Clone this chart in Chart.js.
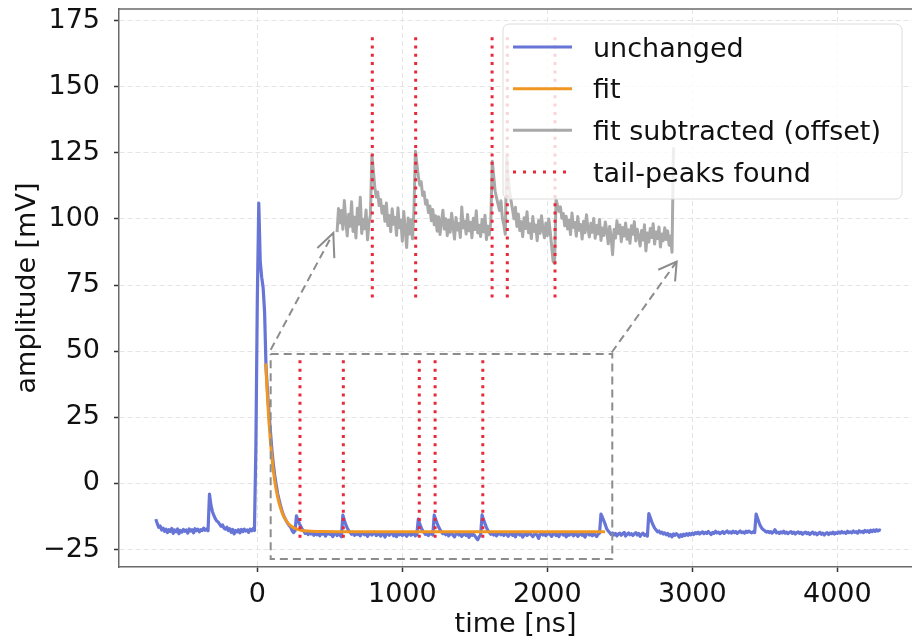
<!DOCTYPE html>
<html>
<head>
<meta charset="utf-8">
<script src="https://cdn.jsdelivr.net/npm/chart.js@4/dist/chart.umd.min.js"></script>
<style>
  html, body { margin: 0; padding: 0; background: #fff; }
  #wrap { width: 912px; height: 642px; }
</style>
</head>
<body>
<div id="wrap"><canvas id="myChart"></canvas></div>
<script>
// legend names
var seriesNames = ["unchanged", "fit", "fit subtracted (offset)", "tail-peaks found"];

// axis ticks
var xTickValues = [0, 1000, 2000, 3000, 4000];
var yTickValues = [-25, 0, 25, 50, 75, 100, 125, 150, 175];

// unchanged waveform, sampled every 10 ns from -700 ns
var blueStart = -700;
var blueStep = 10;
var blueValues = [
  -13.5,-15.2,-16.6,-16.1,-17.6,-16.9,-18.1,-17.3,-18.6,-17.5,
  -18.2,-17.0,-18.9,-17.6,-18.3,-17.2,-19.0,-17.8,-18.4,-17.4,
  -18.1,-17.6,-18.8,-17.2,-18.0,-17.5,-18.7,-17.1,-17.9,-17.3,
  -18.3,-17.5,-17.8,-16.9,-17.7,-17.2,-17.9,-4.0,-8.2,-10.6,
  -12.1,-13.3,-14.2,-14.6,-15.4,-16.2,-15.7,-16.9,-17.3,-16.5,
  -17.8,-17.1,-18.5,-17.4,-19.1,-17.8,-18.3,-17.5,-18.7,-17.4,
  -18.2,-17.3,-18.0,-17.6,-18.5,-17.3,-17.9,-17.1,-17.8,14.0,
  70.0,106.0,84.0,78.0,74.0,65.0,44.0,35.0,27.0,20.0,
  13.0,7.5,3.0,-0.5,-3.8,-6.2,-8.4,-10.3,-11.9,-13.2,
  -14.2,-15.1,-15.9,-16.6,-17.8,-18.6,-17.9,-12.3,-13.8,-15.2,
  -16.3,-17.4,-18.0,-18.9,-18.2,-19.3,-18.5,-19.1,-18.4,-19.6,
  -18.7,-19.4,-18.3,-19.8,-18.9,-19.2,-18.6,-19.9,-19.0,-18.5,
  -19.3,-18.8,-20.1,-19.2,-18.6,-19.7,-18.9,-19.5,-20.2,-12.0,
  -13.9,-15.6,-16.8,-17.9,-18.5,-19.2,-18.4,-19.6,-18.8,-19.3,
  -18.5,-19.8,-19.0,-18.6,-19.4,-18.9,-20.0,-19.1,-18.7,-19.5,
  -19.0,-18.4,-19.7,-19.2,-18.8,-19.9,-19.3,-18.6,-20.3,-19.1,
  -18.9,-19.6,-19.0,-18.5,-19.8,-19.2,-20.1,-18.8,-19.4,-19.0,
  -19.7,-18.7,-19.3,-20.0,-19.1,-18.8,-19.6,-19.2,-18.9,-19.8,
  -19.4,-13.5,-15.3,-16.7,-17.9,-18.6,-19.3,-18.9,-19.7,-19.1,
  -18.8,-19.5,-12.0,-13.6,-15.1,-16.4,-17.5,-18.3,-19.0,-18.6,
  -19.4,-18.9,-19.8,-19.2,-18.7,-19.6,-20.2,-19.0,-18.8,-19.5,
  -19.1,-20.0,-19.3,-18.9,-19.7,-19.2,-20.4,-19.0,-19.6,-19.3,
  -19.8,-20.6,-21.3,-20.2,-19.5,-11.9,-13.7,-15.2,-16.6,-17.8,
  -18.5,-19.2,-18.7,-19.5,-18.9,-19.8,-19.1,-18.6,-19.4,-19.0,
  -19.7,-18.8,-19.3,-20.0,-19.2,-18.7,-19.6,-19.1,-20.2,-19.0,
  -18.8,-19.5,-19.1,-20.3,-19.4,-18.9,-19.7,-19.2,-18.6,-19.5,
  -20.1,-19.3,-18.9,-19.6,-20.8,-19.2,-18.7,-19.5,-19.0,-19.8,
  -19.2,-18.6,-19.4,-20.0,-19.1,-18.8,-19.7,-19.3,-20.1,-19.0,
  -18.7,-19.5,-19.2,-20.2,-18.9,-19.6,-19.1,-18.5,-19.8,-19.3,
  -19.0,-20.0,-19.4,-18.8,-19.6,-19.2,-20.3,-19.0,-18.7,-19.5,
  -19.1,-19.8,-18.9,-19.4,-20.1,-19.2,-18.8,-11.6,-12.8,-14.2,
  -15.6,-17.2,-18.0,-18.6,-19.3,-18.7,-19.5,-18.9,-19.8,-19.1,
  -18.8,-19.6,-19.0,-18.5,-19.9,-19.2,-18.7,-19.4,-19.0,-19.7,
  -19.1,-18.6,-19.5,-18.9,-20.0,-19.2,-18.8,-19.6,-19.3,-19.9,
  -11.4,-12.9,-14.5,-15.8,-16.9,-17.6,-18.3,-18.0,-18.8,-18.4,
  -19.1,-18.7,-19.4,-18.9,-19.8,-19.3,-20.2,-19.1,-19.6,-19.0,
  -19.5,-20.3,-19.4,-20.0,-19.2,-19.7,-19.0,-19.6,-18.9,-19.4,
  -18.8,-19.3,-18.6,-19.0,-18.4,-19.1,-18.7,-18.3,-19.0,-18.5,
  -18.9,-18.2,-18.8,-19.3,-18.5,-18.9,-18.1,-18.7,-18.4,-19.0,
  -18.6,-18.2,-18.9,-18.4,-18.0,-18.7,-18.3,-18.8,-18.1,-18.6,
  -18.2,-18.9,-18.4,-18.0,-18.6,-18.3,-18.8,-18.1,-18.5,-18.0,
  -18.4,-18.7,-18.2,-18.6,-11.6,-13.2,-14.8,-16.1,-17.0,-17.5,
  -17.9,-18.4,-18.1,-18.6,-18.2,-18.8,-18.3,-17.5,-18.7,-18.4,
  -18.9,-18.3,-18.7,-18.1,-18.8,-18.4,-19.0,-18.5,-18.2,-18.9,
  -18.4,-19.1,-18.6,-18.3,-18.9,-18.5,-19.2,-18.7,-18.4,-19.0,
  -18.6,-19.3,-18.8,-18.4,-19.1,-18.7,-19.4,-18.9,-18.5,-19.2,
  -18.8,-19.5,-18.9,-18.6,-19.3,-18.7,-19.0,-18.4,-19.1,-18.6,
  -18.9,-18.3,-18.8,-18.2,-18.7,-18.4,-18.9,-18.1,-18.6,-18.3,
  -18.7,-18.0,-18.5,-18.2,-18.8,-17.9,-18.4,-18.1,-18.6,-17.8,
  -18.3,-17.9,-18.5,-17.7,-18.2,-17.6,-18.1,-17.5,-18.0,-17.6,
  -17.8
];

// exponential fit of the tail
var fitTimes  = [58, 70, 80, 90, 100, 110, 120, 130, 140, 150, 160, 175, 190, 210, 230, 260, 300, 350, 450, 700, 2398];
var fitValues = [45.4, 32.3, 23.4, 16.1, 10.1, 5.1, 1.0, -2.4, -5.1, -7.4, -9.3, -11.6, -13.3, -14.9, -16.0, -17.0, -17.7, -18.0, -18.2, -18.3, -18.3];

// fit-subtracted waveform (shown shifted up), every 10 ns from 550 ns
var greyStart = 550;
var greyStep = 10;
var greyValues = [
  95.0,104.0,98.5,103.2,96.1,107.0,99.4,93.6,101.8,97.2,
  106.5,95.3,100.7,92.8,104.1,98.0,108.2,94.5,99.9,96.3,
  103.4,92.1,98.6,101.5,124.0,118.5,112.0,108.3,110.2,105.1,
  107.4,102.2,104.8,99.1,106.0,97.5,101.3,95.2,103.9,98.0,
  100.6,93.8,104.2,96.7,99.5,91.6,102.8,95.9,89.2,100.4,
  94.3,99.7,92.5,103.0,125.6,121.0,116.3,112.8,114.1,108.9,
  110.2,105.6,107.1,102.4,104.9,99.3,103.6,97.8,101.2,95.4,
  100.8,94.1,98.9,103.3,96.2,100.1,93.7,99.5,95.0,102.2,
  97.1,92.4,100.6,95.8,98.3,93.0,104.5,96.6,99.2,94.3,
  101.7,95.5,98.8,92.9,100.3,96.0,103.1,94.7,97.6,93.4,
  99.8,95.1,101.4,92.2,97.3,94.0,98.6,121.8,116.4,110.5,
  108.0,105.6,103.2,106.9,100.4,97.8,94.2,123.5,116.0,110.3,
  106.8,103.5,100.1,104.4,97.2,101.9,95.6,99.0,93.3,100.5,
  96.4,102.7,94.8,98.2,92.6,100.9,95.3,97.7,91.8,99.4,
  94.6,101.2,96.0,92.9,98.5,93.7,100.0,95.2,89.6,84.0,
  83.2,107.5,105.2,102.9,104.6,100.3,102.1,97.4,101.0,96.2,
  99.5,94.1,102.3,96.8,98.7,93.5,100.9,95.7,97.9,92.4,
  99.1,94.8,101.6,96.3,93.2,98.4,95.0,100.2,92.7,97.5,
  94.4,99.8,91.9,96.6,93.8,98.9,95.4,90.6,97.2,93.1,
  86.5,96.0,92.8,99.3,94.5,97.7,91.4,96.8,93.6,98.5,
  92.3,95.9,90.8,97.4,94.2,99.0,91.7,96.1,93.4,89.8,
  95.6,92.0,97.8,87.9,94.7,91.3,96.4,93.0,98.2,90.5,
  95.1,92.6,97.0,89.4,94.3,91.8,96.7,92.2,95.5,90.1,
  93.6,87.4,127.0
];

// tail peaks found (ns) and the y span of their markers
var peaksLower = [294, 593, 1117, 1226, 1555];
var peaksUpper = [793, 1092, 1619, 1724, 2053];
var lowerSpan = [-20.5, 48.6];
var upperSpan = [70.3, 170];

// zoom box and arrows pointing to the shifted copy
var boxX = [92, 2448, 2448, 92, 92];
var boxY = [48.9, 48.9, -28.6, -28.6, 48.9];
var shaftX = [[92, 524], [2444, 2892]];
var shaftY = [[50.5, 94.7], [49.5, 83.9]];
var headX = [[414, 524, 531], [2765, 2892, 2881]];
var headY = [[89.0, 94.7, 85.2], [80.8, 83.9, 76.4]];

var blueColor = "#6675d6";
var orangeColor = "#ef9623";
var greyColor = "#a9a9a9";
var redColor = "#e62a3a";
var boxColor = "#8c8c8c";

function toPoints(xs, ys) {
    return xs.map(function (x, i) { return { x: x, y: ys[i] }; });
}

var bluePoints = blueValues.map(function (v, i) { return { x: blueStart + i * blueStep, y: v }; });
var greyPoints = greyValues.map(function (v, i) { return { x: greyStart + i * greyStep, y: v }; });

var peakPoints = [];
peaksLower.forEach(function (t) {
    peakPoints.push({ x: t, y: lowerSpan[0] }, { x: t, y: lowerSpan[1] }, { x: t, y: null });
});
peaksUpper.forEach(function (t) {
    peakPoints.push({ x: t, y: upperSpan[0] }, { x: t, y: upperSpan[1] }, { x: t, y: null });
});

var dashedPoints = toPoints(boxX, boxY);
shaftX.forEach(function (xs, k) {
    dashedPoints.push({ x: xs[0], y: null });
    dashedPoints = dashedPoints.concat(toPoints(xs, shaftY[k]));
});
var headPoints = [];
headX.forEach(function (xs, k) {
    if (k > 0) headPoints.push({ x: xs[0], y: null });
    headPoints = headPoints.concat(toPoints(xs, headY[k]));
});

var FONT = "'DejaVu Sans', sans-serif";

// plain numbers with a real minus sign, like matplotlib
function tickText(v) {
    return v < 0 ? "\u2212" + Math.abs(v) : String(v);
}

// top spine and the legend box inside the plot
var framePlugin = {
    id: "frame",
    afterDraw: function (chart) {
        var ctx = chart.ctx, a = chart.chartArea;
        ctx.save();
        ctx.strokeStyle = "#6a6a6a";
        ctx.lineWidth = 1.5;
        ctx.beginPath();
        ctx.moveTo(a.left, a.top);
        ctx.lineTo(a.right, a.top);
        ctx.stroke();

        // legend
        var lx = 503, ly = 24, lw = 399, lh = 175;
        ctx.beginPath();
        ctx.roundRect(lx, ly, lw, lh, 6);
        ctx.fillStyle = "rgba(255,255,255,0.8)";
        ctx.fill();
        ctx.strokeStyle = "#dcdcdc";
        ctx.lineWidth = 1;
        ctx.stroke();

        var colors = [blueColor, orangeColor, greyColor, redColor];
        var rows = [47, 88.7, 130.3, 172];
        ctx.font = "27px " + FONT;
        ctx.textBaseline = "alphabetic";
        ctx.textAlign = "left";
        for (var i = 0; i < seriesNames.length; i++) {
            ctx.beginPath();
            ctx.strokeStyle = colors[i];
            ctx.lineWidth = 3;
            ctx.setLineDash(i === 3 ? [3, 7] : []);
            ctx.moveTo(513, rows[i]);
            ctx.lineTo(i === 3 ? 573 : 572, rows[i]);
            ctx.stroke();
            ctx.setLineDash([]);
            ctx.fillStyle = "#111";
            ctx.fillText(seriesNames[i], 593, rows[i] + 9.7);
        }
        ctx.restore();
    }
};

new Chart("myChart", {
    type: "scatter",
    data: {
        datasets: [{
            label: seriesNames[3],
            data: peakPoints,
            showLine: true,
            spanGaps: false,
            borderColor: redColor,
            borderWidth: 3,
            borderDash: [3, 5.3],
            pointRadius: 0,
            order: 0
        }, {
            label: "box",
            data: dashedPoints,
            showLine: true,
            spanGaps: false,
            borderColor: boxColor,
            borderWidth: 2,
            borderDash: [8, 5],
            pointRadius: 0,
            order: 1
        }, {
            label: "heads",
            data: headPoints,
            showLine: true,
            spanGaps: false,
            borderColor: boxColor,
            borderWidth: 2,
            pointRadius: 0,
            order: 1
        }, {
            label: seriesNames[2],
            data: greyPoints,
            showLine: true,
            borderColor: greyColor,
            borderWidth: 3,
            borderJoinStyle: "round",
            pointRadius: 0,
            order: 2
        }, {
            label: seriesNames[1],
            data: toPoints(fitTimes, fitValues),
            showLine: true,
            borderColor: orangeColor,
            borderWidth: 3,
            cubicInterpolationMode: "monotone",
            pointRadius: 0,
            order: 3
        }, {
            label: seriesNames[0],
            data: bluePoints,
            showLine: true,
            borderColor: blueColor,
            borderWidth: 3.2,
            borderJoinStyle: "round",
            pointRadius: 0,
            order: 4
        }]
    },
    options: {
        responsive: true,
        maintainAspectRatio: false,
        animation: false,
        events: [],
        layout: { padding: { left: 0, right: 0, top: 9, bottom: 0 } },
        plugins: {
            legend: { display: false },
            tooltip: { enabled: false }
        },
        scales: {
            x: {
                type: "linear",
                min: -954,
                max: 4515,
                afterBuildTicks: function (s) { s.ticks = xTickValues.map(function (v) { return { value: v }; }); },
                afterFit: function (s) { s.height = 75; s.paddingLeft = 0; s.paddingRight = 0; },
                grid: { color: "#e4e4e4", lineWidth: 1, tickLength: 5, tickColor: "#333", tickWidth: 1.5 },
                border: { color: "#6a6a6a", width: 1.5, dash: [5, 3] },
                ticks: { color: "#111", padding: 7, maxRotation: 0, font: { family: FONT, size: 27 }, callback: tickText },
                title: { display: true, text: "time [ns]", color: "#111", padding: { top: 0, bottom: 1 }, font: { family: FONT, size: 27 } }
            },
            y: {
                type: "linear",
                min: -31.6,
                max: 179.4,
                afterBuildTicks: function (s) { s.ticks = yTickValues.map(function (v) { return { value: v }; }); },
                afterFit: function (s) { s.width = 119; s.paddingTop = 0; s.paddingBottom = 0; },
                grid: { color: "#e4e4e4", lineWidth: 1, tickLength: 5, tickColor: "#333", tickWidth: 1.5 },
                border: { color: "#6a6a6a", width: 1.5, dash: [5, 3] },
                ticks: { color: "#111", padding: 14, font: { family: FONT, size: 27 }, callback: tickText },
                title: { display: true, text: "amplitude [mV]", color: "#111", padding: { top: 12, bottom: 0 }, font: { family: FONT, size: 27 } }
            }
        }
    },
    plugins: [framePlugin]
});
</script>
</body>
</html>
